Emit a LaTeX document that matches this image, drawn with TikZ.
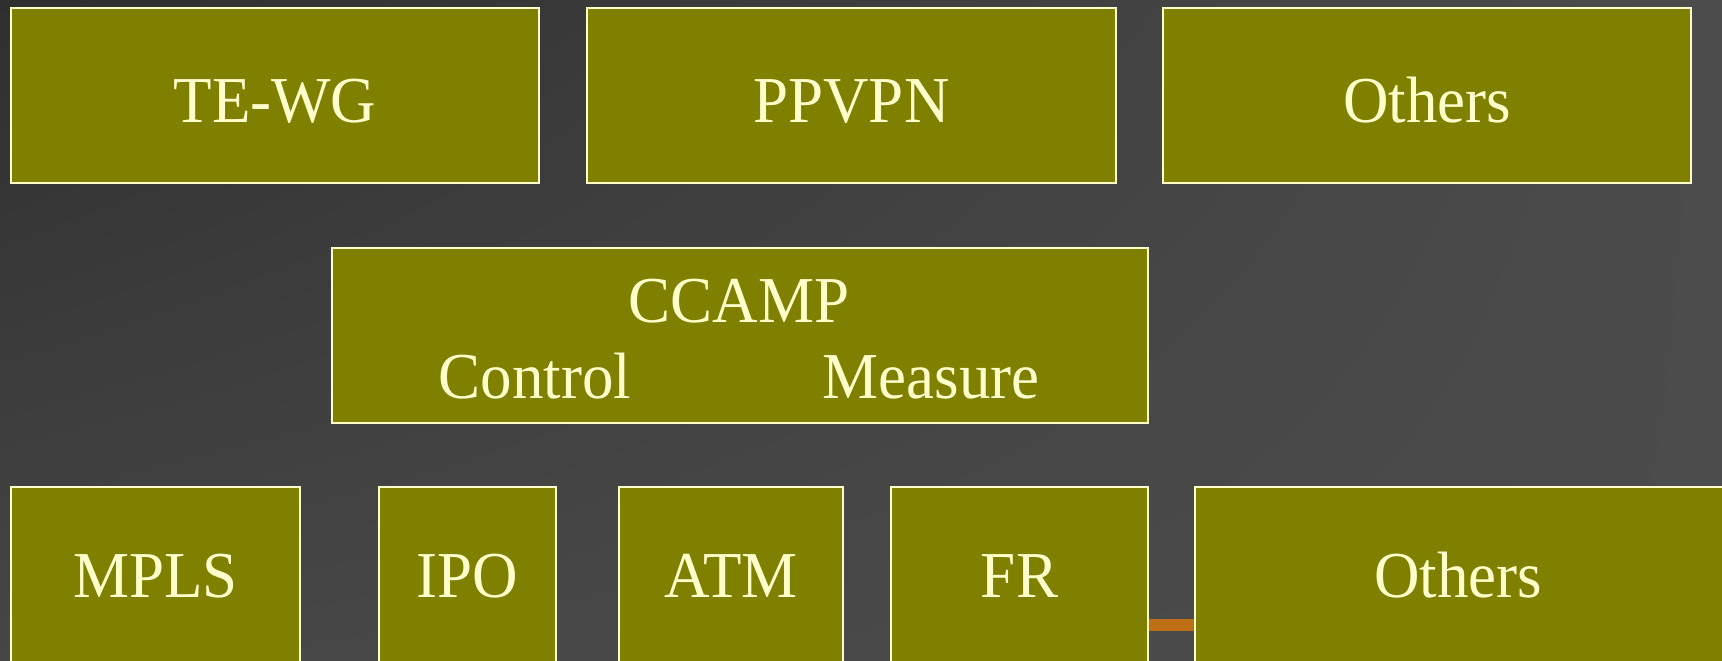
\documentclass[tikz,border=0pt]{standalone}
\usepackage{fontspec}
\usepackage{graphicx}
\usetikzlibrary{shadings}
\setmainfont{Liberation Serif}
\definecolor{olivebox}{RGB}{128,128,0}
\definecolor{paleline}{RGB}{255,255,204}
\definecolor{bgdark}{RGB}{47,47,47}
\definecolor{bgmid}{RGB}{70,70,70}
\definecolor{bglight}{RGB}{76,76,76}
\definecolor{rustbar}{RGB}{190,110,20}
\newcommand{\tallword}[1]{\scalebox{1}[1.04]{#1}}
\tikzset{
  wgbox/.style={draw=paleline, fill=olivebox, line width=2pt, rectangle,
    inner sep=0pt, text=paleline, font=\fontsize{63}{76}\selectfont},
  toprow/.style={wgbox, minimum height=175pt, text height=53pt, text depth=0pt},
  lowrow/.style={wgbox, minimum height=193pt, text height=27pt, text depth=0pt},
  wglabel/.style={text=paleline, inner sep=0pt, anchor=base,
    font=\fontsize{63}{76}\selectfont}
}
\begin{document}
\begin{tikzpicture}[x=1pt,y=-1pt]
  \useasboundingbox (0,0) rectangle (1722,661);
  \clip (0,0) rectangle (1722,661);
  % backdrop
  \shade[upper left=bgdark, upper right=bglight, lower left=bgmid, lower right=bglight]
    (0,0) rectangle (1722,661);

  % upper row of working groups
  \node[toprow, minimum width=528pt] (tewg) at (275,95.5) {\tallword{TE-WG}};
  \node[toprow, minimum width=529pt] (ppvpn) at (851.5,95.5) {\tallword{PPVPN}};
  \node[toprow, minimum width=528pt] (othtop) at (1427,95.5) {\tallword{Others}};

  % CCAMP in the middle
  \node[wgbox, minimum width=816pt, minimum height=175pt] (ccamp) at (740,335.5) {};
  \node[wglabel] (ccampname) at (739,322) {\tallword{CCAMP}};
  \node[wglabel] (control) at (535,398) {\tallword{Control}};
  \node[wglabel] (measure) at (931,398) {\tallword{Measure}};

  % short bar between FR and the last box
  \coordinate (barleft) at (1148,625);
  \coordinate (barright) at (1195,625);
  \draw[rustbar, line width=12pt] (barleft) -- (barright);

  % lower row of technologies
  \node[lowrow, minimum width=289pt] (mpls) at (155.5,583.5) {\tallword{MPLS}};
  \node[lowrow, minimum width=177pt] (ipo) at (467.5,583.5) {\tallword{IPO}};
  \node[lowrow, minimum width=224pt] (atm) at (731,583.5) {\tallword{ATM}};
  \node[lowrow, minimum width=257pt] (fr) at (1019.5,583.5) {\tallword{FR}};
  \node[lowrow, minimum width=545pt] (othlow) at (1467.5,583.5) {};
  \node[wglabel] (othlowname) at (1458,597) {\tallword{Others}};
\end{tikzpicture}
\end{document}
